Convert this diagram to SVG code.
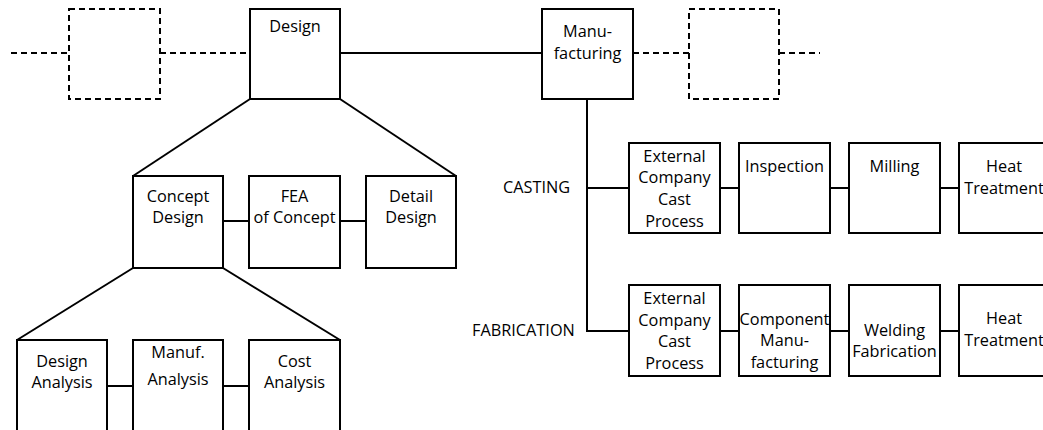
<svg xmlns="http://www.w3.org/2000/svg" width="1043" height="430" viewBox="0 0 1043 430">
<style>
.box{fill:#fff;stroke:#000;stroke-width:2}
.dbox{fill:none;stroke:#000;stroke-width:2;stroke-dasharray:6 4}
.ln{fill:none;stroke:#000;stroke-width:2}
.dl{fill:none;stroke:#000;stroke-width:2;stroke-dasharray:6 4}
text{font-family:"Open Sans","DejaVu Sans",sans-serif;font-size:16.3px;fill:#000;text-anchor:middle}
.lab{text-anchor:start}
</style>
<rect width="1043" height="430" fill="#fff"/>
<g id="connectors">
<line class="dl" x1="11" y1="53" x2="69" y2="53"/>
<line class="dl" x1="160" y1="53" x2="250" y2="53"/>
<line class="ln" x1="340" y1="53" x2="542" y2="53"/>
<line class="dl" x1="633" y1="53" x2="689" y2="53"/>
<line class="dl" x1="779" y1="53" x2="820" y2="53"/>
<polyline class="ln" points="250,99 133,176"/>
<polyline class="ln" points="340,99 456,176"/>
<line class="ln" x1="223" y1="221" x2="249" y2="221"/>
<line class="ln" x1="340" y1="221" x2="366" y2="221"/>
<polyline class="ln" points="133,268 17,340"/>
<polyline class="ln" points="223,268 340,340"/>
<line class="ln" x1="107" y1="386" x2="133" y2="386"/>
<line class="ln" x1="223" y1="386" x2="249" y2="386"/>
<polyline class="ln" points="587,99 587,331 629,331"/>
<line class="ln" x1="587" y1="188" x2="629" y2="188"/>
<line class="ln" x1="720" y1="188" x2="739" y2="188"/>
<line class="ln" x1="830" y1="188" x2="849" y2="188"/>
<line class="ln" x1="940" y1="188" x2="959" y2="188"/>
<line class="ln" x1="720" y1="331" x2="739" y2="331"/>
<line class="ln" x1="830" y1="331" x2="849" y2="331"/>
<line class="ln" x1="940" y1="331" x2="959" y2="331"/>
</g>
<g id="prev"><rect class="dbox" x="69" y="9" width="91" height="90"/></g>
<g id="design"><rect class="box" x="250" y="9" width="90" height="90"/><text x="295" y="32">Design</text></g>
<g id="manufacturing"><rect class="box" x="542" y="9" width="91" height="90"/><text x="587.5" y="37">Manu-</text><text x="587.5" y="59">facturing</text></g>
<g id="next"><rect class="dbox" x="689" y="9" width="90" height="90"/></g>
<g id="concept"><rect class="box" x="133" y="176" width="90" height="92"/><text x="178" y="202">Concept</text><text x="178" y="223">Design</text></g>
<g id="fea"><rect class="box" x="249" y="176" width="91" height="92"/><text x="294.5" y="202">FEA</text><text x="294.5" y="223">of Concept</text></g>
<g id="detail"><rect class="box" x="366" y="176" width="90" height="92"/><text x="411" y="202">Detail</text><text x="411" y="223">Design</text></g>
<g id="design-analysis"><rect class="box" x="17" y="340" width="90" height="100"/><text x="62" y="367">Design</text><text x="62" y="388">Analysis</text></g>
<g id="manuf-analysis"><rect class="box" x="133" y="340" width="90" height="100"/><text x="178" y="358">Manuf.</text><text x="178" y="385">Analysis</text></g>
<g id="cost-analysis"><rect class="box" x="249" y="340" width="91" height="100"/><text x="294.5" y="367">Cost</text><text x="294.5" y="388">Analysis</text></g>
<g id="casting-label"><text class="lab" x="503" y="193">CASTING</text></g>
<g id="fabrication-label"><text class="lab" x="472" y="336">FABRICATION</text></g>
<g id="c-external"><rect class="box" x="629" y="143" width="91" height="90"/><text x="674.5" y="162">External</text><text x="674.5" y="183">Company</text><text x="674.5" y="205">Cast</text><text x="674.5" y="227">Process</text></g>
<g id="c-inspection"><rect class="box" x="739" y="143" width="91" height="90"/><text x="784.5" y="172">Inspection</text></g>
<g id="c-milling"><rect class="box" x="849" y="143" width="91" height="90"/><text x="894.5" y="172">Milling</text></g>
<g id="c-heat"><rect class="box" x="959" y="143" width="91" height="90"/><text x="1004" y="172">Heat</text><text x="1004" y="194">Treatment</text></g>
<g id="f-external"><rect class="box" x="629" y="285" width="91" height="91"/><text x="674.5" y="304">External</text><text x="674.5" y="326">Company</text><text x="674.5" y="347">Cast</text><text x="674.5" y="369">Process</text></g>
<g id="f-component"><rect class="box" x="739" y="285" width="91" height="91"/><text x="784.5" y="325">Component</text><text x="784.5" y="346">Manu-</text><text x="784.5" y="368">facturing</text></g>
<g id="f-welding"><rect class="box" x="849" y="285" width="91" height="91"/><text x="894.5" y="336">Welding</text><text x="894.5" y="357">Fabrication</text></g>
<g id="f-heat"><rect class="box" x="959" y="285" width="91" height="91"/><text x="1004" y="324">Heat</text><text x="1004" y="346">Treatment</text></g>
</svg>
